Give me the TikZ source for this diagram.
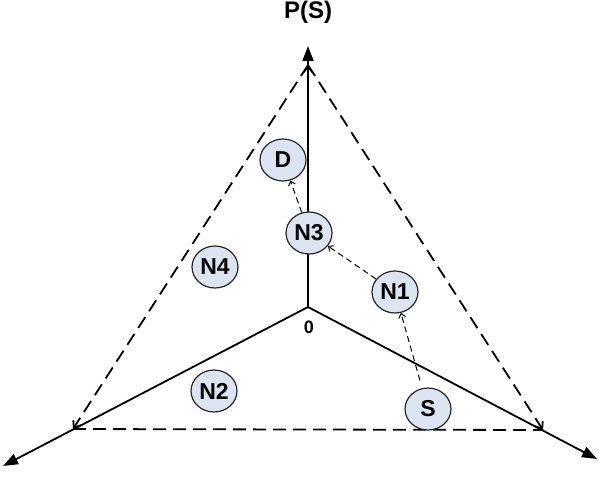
\documentclass[tikz,border=0pt]{standalone}
\usepackage{fontspec}
\setmainfont{Liberation Sans}
\usetikzlibrary{positioning,arrows.meta,shapes.geometric}

\begin{document}
\begin{tikzpicture}[x=1pt, y=-1pt, font=\bfseries,
	knoten/.style={ellipse, draw=black!85, line width=1.2pt, fill=knotenblau, minimum width=46pt, minimum height=42pt, inner sep=0pt, font=\fontsize{23}{25}\selectfont\bfseries},
	achse/.style={line width=1.8pt, -{Triangle[length=15pt,width=11pt]}},
	rand/.style={line width=1.8pt, dash pattern=on 13pt off 7pt},
	pfad/.style={line width=1pt, dash pattern=on 6pt off 4pt, -{Straight Barb[length=4pt,width=7pt]}},
	spitze/.style={-{Straight Barb[length=6pt,width=9pt]}}]

		% Farben definieren
		\definecolor{knotenblau}{RGB}{221,228,241}

		\useasboundingbox (0,0) rectangle (599,483);

		% --- Eckpunkte ---
		\coordinate (O) at (308,307);
		\coordinate (A) at (308,65);
		\coordinate (L) at (73,429);
		\coordinate (R) at (543,430);
		\coordinate (oben) at (308,46);
		\coordinate (links) at (3,466);
		\coordinate (rechts) at (597,459);

		% Achsen
		\draw[line width=1.8pt, spitze] (O) -- (A);
		\draw[achse] (A) -- (oben);
		\draw[achse] (O) -- (links);
		\draw[achse] (O) -- (rechts);

		% Dreieck
		\draw[rand, spitze] (A) -- (L);
		\draw[rand, spitze] (A) -- (R);
		\draw[rand] (L) -- (R);

		% Beschriftung
		\node[font=\fontsize{24}{26}\selectfont\bfseries, anchor=base] (ps) at (308,18) {P(S)};
		\node[font=\fontsize{18}{20}\selectfont\bfseries] (null) at (309,327) {0};

		% --- Knoten ---
		\node[knoten] (D) at (283,160) {D};
		\node[knoten] (N3) at (309,233) {N3};
		\node[knoten] (N4) at (215,267) {N4};
		\node[knoten] (N1) at (395,292) {N1};
		\node[knoten] (N2) at (214,391) {N2};
		\node[knoten] (S) at (428,409) {S};

		% Pfad
		\draw[pfad, shorten <=8pt] (S) -- (N1);
		\draw[pfad] (N1) -- (N3);
		\draw[pfad] (N3) -- (D);

	\end{tikzpicture}
\end{document}
